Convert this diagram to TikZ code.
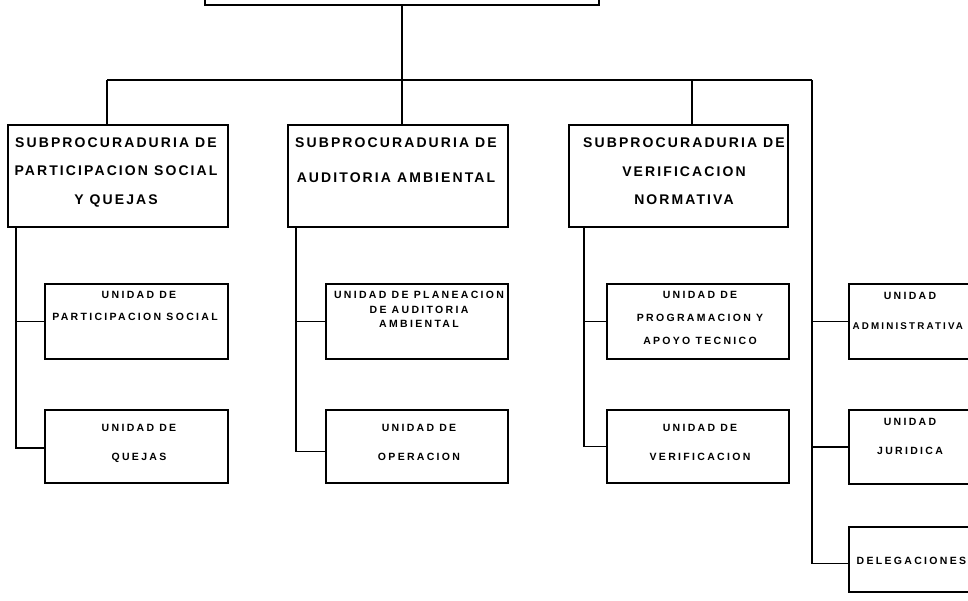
\documentclass[tikz,border=0pt]{standalone}
\usepackage{fontspec}
\newfontfamily\bigf{Liberation Sans}[LetterSpace=15]
\newfontfamily\smallf{Liberation Sans}[LetterSpace=22]
\begin{document}
\begin{tikzpicture}[x=1pt,y=-1pt,line width=1.3pt]
\tikzset{
  boxs/.style={draw,rectangle,inner sep=0pt,minimum width=#1},
  bigt/.style={inner sep=0pt,font=\bigf\bfseries\fontsize{14}{14}\selectfont,text height=10pt,text depth=0pt},
  smallt/.style={inner sep=0pt,font=\smallf\bfseries\fontsize{10.5}{10.5}\selectfont,text height=7.5pt,text depth=0pt}
}
\useasboundingbox (0,0) rectangle (968,601);
\clip (0,0) rectangle (968,601);
% boxes
\node[boxs=394,minimum height=25] (top) at (402,-7.5) {};
\node[boxs=220,minimum height=102] (b1) at (118,176) {};
\node[boxs=220,minimum height=102] (b2) at (398,176) {};
\node[boxs=219,minimum height=102] (b3) at (678.5,176) {};
\node[boxs=183,minimum height=75] (s11) at (136.5,321.5) {};
\node[boxs=183,minimum height=73] (s12) at (136.5,446.5) {};
\node[boxs=182,minimum height=75] (s21) at (417,321.5) {};
\node[boxs=182,minimum height=73] (s22) at (417,446.5) {};
\node[boxs=182,minimum height=75] (s31) at (698,321.5) {};
\node[boxs=182,minimum height=73] (s32) at (698,446.5) {};
\node[boxs=151,minimum height=75] (r1) at (924.5,321.5) {};
\node[boxs=151,minimum height=74] (r2) at (924.5,447) {};
\node[boxs=151,minimum height=65] (r3) at (924.5,559.5) {};
% connectors
\coordinate (j0) at (402,80);
\coordinate (hl) at (107,80);
\coordinate (hr) at (812,80);
\coordinate (j3) at (692,80);
\draw (top.south) -- (j0);
\draw (hl) -- (hr);
\draw (hl) -- (hl |- b1.north);
\draw (j0) -- (j0 |- b2.north);
\draw (j3) -- (j3 |- b3.north);
\coordinate (r3c) at ([yshift=-4pt]r3.west);
\draw (hr) |- (r3c);
\draw (hr |- r1.west) -- (r1.west);
\draw (hr |- r2.west) -- (r2.west);
\coordinate (sp1) at (16,227);
\draw (sp1) |- ([yshift=-1.5pt]s12.west);
\draw (sp1 |- s11.west) -- (s11.west);
\coordinate (sp2) at (296,227);
\coordinate (s22c) at ([yshift=-5pt]s22.west);
\draw (sp2) |- (s22c);
\draw (sp2 |- s21.west) -- (s21.west);
\coordinate (sp3) at (584,227);
\draw (sp3) |- (s32.west);
\draw (sp3 |- s31.west) -- (s31.west);
% main texts
\node[bigt] (t11) at (116,143) {SUBPROCURADURIA DE};
\node[bigt] (t12) at (116,171) {PARTICIPACION SOCIAL};
\node[bigt] (t13) at (116,200) {Y QUEJAS};
\node[bigt] (t21) at (396,143) {SUBPROCURADURIA DE};
\node[bigt] (t22) at (396,178) {AUDITORIA AMBIENTAL};
\node[bigt] (t31) at (684,143) {SUBPROCURADURIA DE};
\node[bigt] (t32) at (684,172) {VERIFICACION};
\node[bigt] (t33) at (684,200) {NORMATIVA};
% sub texts
\node[smallt] (u11a) at (139,295) {UNIDAD DE};
\node[smallt] (u11b) at (135,317) {PARTICIPACION SOCIAL};
\node[smallt] (u12a) at (139,428) {UNIDAD DE};
\node[smallt] (u12b) at (139,457) {QUEJAS};
\node[smallt] (u21a) at (419,295) {UNIDAD DE PLANEACION};
\node[smallt] (u21b) at (419,310) {DE AUDITORIA};
\node[smallt] (u21c) at (419,324) {AMBIENTAL};
\node[smallt] (u22a) at (419,428) {UNIDAD DE};
\node[smallt] (u22b) at (419,457) {OPERACION};
\node[smallt] (u31a) at (700,295) {UNIDAD DE};
\node[smallt] (u31b) at (700,318) {PROGRAMACION Y};
\node[smallt] (u31c) at (700,341) {APOYO TECNICO};
\node[smallt] (u32a) at (700,428) {UNIDAD DE};
\node[smallt] (u32b) at (700,457) {VERIFICACION};
\node[smallt] (v1a) at (910,296) {UNIDAD};
\node[smallt,anchor=west,font=\smallf\bfseries\fontsize{9.8}{9.8}\selectfont] (v1b) at (852,326) {ADMINISTRATIVA};
\node[smallt] (v2a) at (910,422) {UNIDAD};
\node[smallt] (v2b) at (910,451) {JURIDICA};
\node[smallt,anchor=west] (v3) at (856,561) {DELEGACIONES};
\end{tikzpicture}
\end{document}
